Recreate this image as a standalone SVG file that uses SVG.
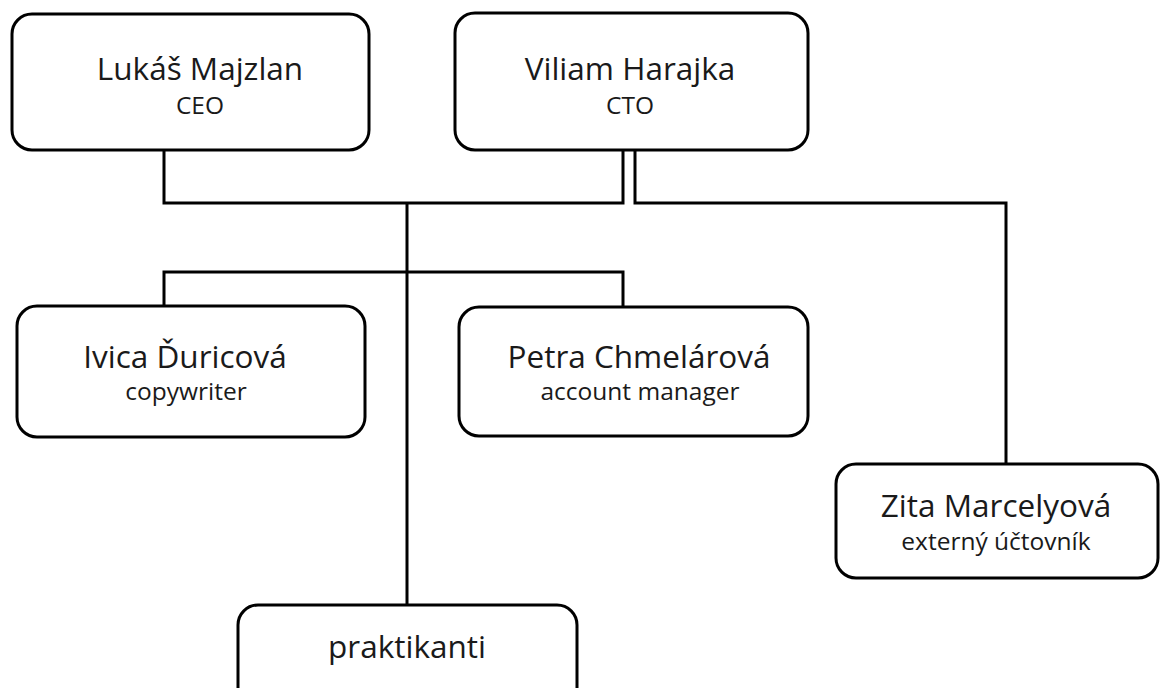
<svg xmlns="http://www.w3.org/2000/svg" width="1161" height="688" viewBox="0 0 1161 688">
<style>
.box{fill:#fff;stroke:#000;stroke-width:3}
.ln{fill:none;stroke:#000;stroke-width:3;stroke-linejoin:miter}
.nm{font-family:"Open Sans","Noto Sans",sans-serif;font-size:31.5px;fill:#1a1a1a;text-anchor:middle}
.sb{font-family:"Open Sans","Noto Sans",sans-serif;font-size:24.5px;fill:#1a1a1a;text-anchor:middle}
</style>
<rect width="1161" height="688" fill="#fff"/>
<g id="connectors">
<polyline class="ln" points="164,150 164,203 623,203 623,150"/>
<polyline class="ln" points="635,150 635,203 1006,203 1006,464"/>
<line class="ln" x1="407" y1="203" x2="407" y2="605"/>
<polyline class="ln" points="164,306 164,272 623,272 623,307"/>
</g>
<g id="ceo">
<rect class="box" x="12" y="14" width="357" height="136" rx="20"/>
<text class="nm" x="200" y="80">Lukáš Majzlan</text>
<text class="sb" x="200" y="114">CEO</text>
</g>
<g id="cto">
<rect class="box" x="455" y="13" width="353" height="137" rx="20"/>
<text class="nm" x="630" y="80">Viliam Harajka</text>
<text class="sb" x="630" y="114">CTO</text>
</g>
<g id="ivica">
<rect class="box" x="17" y="306" width="348" height="131" rx="20"/>
<text class="nm" x="185" y="368">Ivica Ďuricová</text>
<text class="sb" x="186" y="400">copywriter</text>
</g>
<g id="petra">
<rect class="box" x="459" y="307" width="349" height="129" rx="20"/>
<text class="nm" x="639" y="368">Petra Chmelárová</text>
<text class="sb" x="640" y="400">account manager</text>
</g>
<g id="zita">
<rect class="box" x="836" y="464" width="322" height="114" rx="20"/>
<text class="nm" x="996" y="517">Zita Marcelyová</text>
<text class="sb" x="996" y="550">externý účtovník</text>
</g>
<g id="praktikanti">
<rect class="box" x="238" y="605" width="339" height="110" rx="20"/>
<text class="nm" x="407" y="658">praktikanti</text>
</g>
</svg>
